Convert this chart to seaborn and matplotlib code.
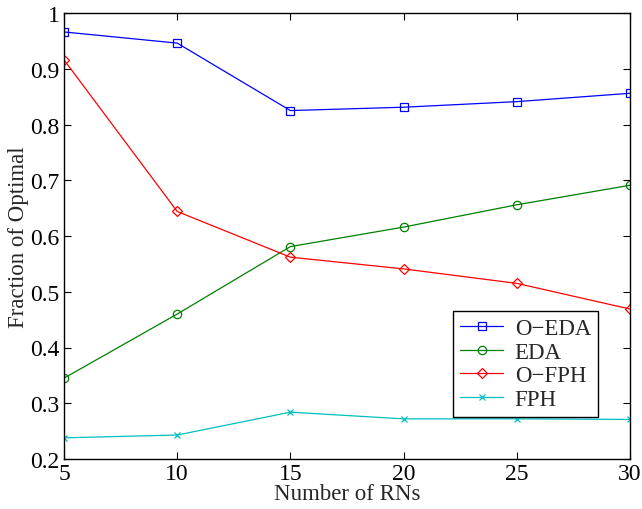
import matplotlib
matplotlib.use("Agg")
import matplotlib.pyplot as plt
import seaborn as sns
import pandas as pd

rns = [5, 10, 15, 20, 25, 30]
o_eda = [0.966, 0.946, 0.825, 0.831, 0.841, 0.856]
eda = [0.345, 0.460, 0.581, 0.616, 0.656, 0.691]
o_fph = [0.916, 0.644, 0.562, 0.541, 0.515, 0.469]
fph = [0.238, 0.243, 0.284, 0.272, 0.272, 0.271]

series_names = ["O\u2212EDA", "EDA", "O\u2212FPH", "FPH"]
series_vals = [o_eda, eda, o_fph, fph]
colors = ["#0000ff", "#008000", "#ff0000", "#00bfbf"]
markers = ["s", "o", "D", "x"]
msizes = [5.2, 6, 5.6, 4.5]

sns.set_theme(style="white")
FAM = ["Liberation Serif", "DejaVu Serif"]
plt.rcParams["font.family"] = FAM
plt.rcParams["font.serif"] = ["Liberation Serif", "DejaVu Serif"]

fig = plt.figure(figsize=(6.42, 5.10), dpi=100)
ax = fig.add_axes([64 / 642, 1 - 460 / 510, (630 - 64) / 642, (460 - 14) / 510])

for name, vals, c, m, ms in zip(series_names, series_vals, colors, markers, msizes):
    df = pd.DataFrame({"x": rns, "y": vals})
    sns.lineplot(data=df, x="x", y="y", ax=ax, color=c, marker=m,
                 markersize=ms, markerfacecolor="none", markeredgecolor=c,
                 markeredgewidth=0.9, linewidth=0.9, label=name)

ax.set_xlim(5, 30)
ax.set_ylim(0.2, 1.0)
ax.set_xticks(rns)
ax.set_xticklabels([str(v) for v in rns], fontfamily=FAM, fontsize=17)
yt = [0.2, 0.3, 0.4, 0.5, 0.6, 0.7, 0.8, 0.9, 1.0]
ax.set_yticks(yt)
ax.set_yticklabels(["0.2", "0.3", "0.4", "0.5", "0.6", "0.7", "0.8", "0.9", "1"],
                   fontfamily=FAM, fontsize=17)
ax.tick_params(direction="in", length=5, width=0.8, colors="black",
               top=True, right=True, bottom=True, left=True, pad=3)
for s in ax.spines.values():
    s.set_visible(True)
    s.set_color("black")
    s.set_linewidth(1.0)
ax.set_xlabel("Number of RNs", fontsize=16.5, fontfamily=FAM, labelpad=-1)
ax.set_ylabel("Fraction of Optimal", fontsize=16.5, fontfamily=FAM, labelpad=1)

leg = ax.legend(loc="lower right", bbox_to_anchor=(598 / 642, 1 - 418 / 510),
                bbox_transform=fig.transFigure,
                prop={"family": FAM, "size": 16.5}, frameon=True,
                fancybox=False, edgecolor="black", framealpha=1,
                handlelength=1.9, handletextpad=0.5, borderpad=0.3,
                labelspacing=0.12, borderaxespad=0)
leg.get_frame().set_linewidth(1.0)

fig.savefig("out.png", dpi=100)
